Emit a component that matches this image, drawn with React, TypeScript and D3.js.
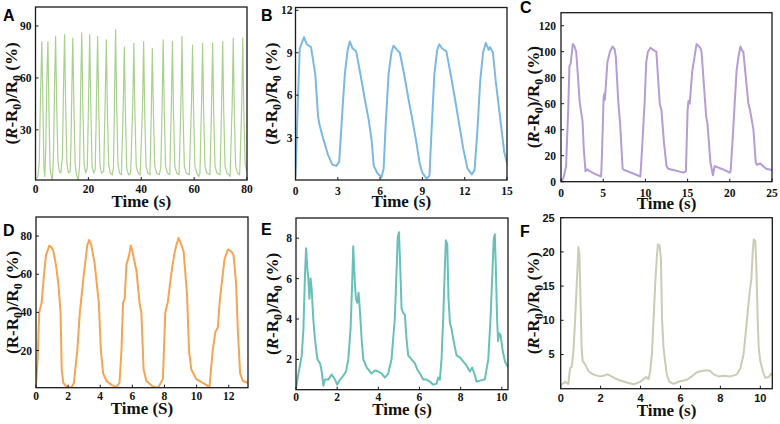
import React from "react";
import * as d3 from "d3";

const SERIF = "'Liberation Serif', 'Times New Roman', serif";
const SANS = "'Liberation Sans', Arial, sans-serif";

type Pt = [number, number];

// Panel A: time (s), (R-R0)/R0 (%)
const dataA: Pt[] = [
  [0, 2], [0.8, 2.5], [1.4, 10], [1.9, 50], [2.4, 81], [2.8, 45], [3.2, 8], [3.5, 3], [3.9, 20], [4.3, 60], [4.7, 81],
  [5.1, 40], [5.5, 8], [6.0, 3], [6.4, 1], [6.8, 15], [7.2, 55], [7.6, 84], [8.0, 45], [8.5, 12], [9.0, 6], [9.6, 5],
  [10.2, 15], [10.6, 55], [11.0, 85], [11.4, 45], [11.9, 10], [12.5, 5], [13.1, 6], [13.4, 20], [13.8, 58], [14.1, 83],
  [14.5, 45], [15.0, 10], [15.5, 4], [16.2, 1], [16.7, 10], [17.1, 55], [17.5, 86], [17.9, 45], [18.4, 10], [19.0, 5],
  [19.6, 8], [20.1, 50], [20.5, 85], [20.9, 45], [21.4, 9], [22.0, 5], [22.6, 7], [23.1, 50], [23.5, 84], [23.9, 45],
  [24.4, 9], [25.0, 5], [25.8, 6], [26.4, 50], [26.8, 82], [27.2, 40], [27.7, 10], [28.3, 5], [29.0, 4], [29.5, 8],
  [29.9, 50], [30.3, 88], [30.7, 45], [31.2, 10], [31.8, 5], [32.5, 4], [33.2, 45], [33.6, 78], [34.0, 40], [34.5, 8],
  [35.2, 4], [36.0, 5], [36.8, 45], [37.2, 80], [37.6, 40], [38.1, 9], [38.8, 5], [39.6, 4], [40.5, 45], [40.9, 81],
  [41.3, 40], [41.8, 9], [42.5, 5], [43.3, 4], [43.8, 40], [44.2, 77], [44.6, 40], [45.1, 9], [45.8, 5], [46.8, 4],
  [47.4, 8], [47.9, 45], [48.3, 82], [48.7, 40], [49.2, 9], [49.9, 5], [50.8, 4], [51.4, 45], [51.8, 81], [52.2, 40],
  [52.7, 9], [53.4, 5], [54.3, 4], [55.0, 45], [55.4, 84], [55.8, 40], [56.3, 9], [57.0, 5], [58.2, 4], [59.0, 45],
  [59.4, 79], [59.8, 40], [60.3, 9], [61.0, 5], [61.8, 3], [62.2, 5], [62.8, 45], [63.2, 80], [63.6, 40], [64.1, 9],
  [64.8, 5], [66.0, 4], [66.6, 45], [67.0, 80], [67.4, 40], [67.9, 9], [68.6, 5], [69.8, 4], [70.4, 45], [70.8, 81],
  [71.2, 40], [71.7, 9], [72.4, 5], [73.2, 4], [73.6, 3], [74.4, 45], [74.8, 83], [75.2, 40], [75.7, 9], [76.4, 5],
  [77.2, 4], [77.4, 12], [78.0, 45], [78.4, 83], [78.8, 40], [79.3, 10], [80, 6],
];

const dataB: Pt[] = [
  [0, 0.2], [0.15, 5], [0.3, 9.3], [0.6, 10.1], [0.8, 9.6], [1.1, 9.4], [1.4, 7.5], [1.6, 4.5], [1.7, 3.9], [2.0, 2.8],
  [2.3, 1.8], [2.6, 1.1], [2.9, 1.0], [3.1, 1.3], [3.3, 4.5], [3.5, 7.5], [3.7, 9.2], [3.85, 9.8], [4.05, 9.3],
  [4.3, 9.1], [4.6, 7.5], [4.9, 5.8], [5.2, 4.2], [5.4, 2.8], [5.55, 1.0], [5.8, 0.5], [6.1, 0.2], [6.25, 0.8],
  [6.4, 4.0], [6.6, 7.5], [6.8, 9.0], [6.95, 9.5], [7.2, 9.2], [7.4, 9.0], [7.7, 7.5], [8.0, 5.8], [8.3, 4.2],
  [8.6, 2.5], [8.8, 1.2], [9.0, 0.5], [9.3, 0.1], [9.5, 0.3], [9.65, 3.5], [9.85, 7.5], [10.05, 9.2], [10.2, 9.6],
  [10.4, 9.3], [10.7, 9.1], [11.0, 7.5], [11.3, 5.8], [11.6, 4.0], [11.9, 2.2], [12.2, 0.8], [12.5, 0.4], [12.7, 0.7],
  [12.9, 3.5], [13.1, 7.0], [13.3, 9.0], [13.5, 9.7], [13.7, 9.2], [13.8, 9.4], [14.0, 9.0], [14.2, 7.0], [14.5, 4.5],
  [14.8, 2.0], [15, 1.2],
];

const dataC: Pt[] = [
  [0, 0], [0.3, 3], [0.6, 12], [0.85, 55], [1.0, 89], [1.15, 91], [1.4, 106], [1.6, 104], [1.8, 100], [2.0, 82],
  [2.2, 62], [2.35, 55], [2.55, 47], [2.7, 25], [2.9, 8], [3.1, 9.5], [3.3, 8.5], [4.0, 6], [4.75, 4], [4.85, 20],
  [5.05, 65], [5.15, 68], [5.2, 63], [5.5, 92], [5.8, 100], [6.1, 104], [6.35, 102], [6.5, 96], [6.8, 60], [7.0, 45],
  [7.3, 10], [7.5, 9], [8.5, 6.5], [9.4, 4], [9.6, 25], [9.9, 60], [10.1, 92], [10.3, 100], [10.6, 103], [11.0, 101],
  [11.3, 100], [11.7, 60], [11.9, 55], [12.2, 30], [12.5, 12], [12.7, 10], [13.3, 9], [14.5, 7], [14.8, 8], [15.0, 55],
  [15.1, 62], [15.25, 60], [15.55, 85], [15.8, 95], [16.06, 106], [16.5, 103], [16.65, 100], [17.2, 50], [17.35, 45],
  [17.7, 15], [18.0, 5], [18.2, 12], [19.0, 10], [20.0, 7], [20.1, 8], [20.4, 40], [20.8, 85], [21.0, 95],
  [21.25, 104], [21.45, 101], [21.6, 100], [22.2, 60], [22.4, 55], [22.8, 40], [23.07, 15], [23.2, 13], [23.6, 14],
  [24.3, 10], [25, 9],
];

const dataD: Pt[] = [
  [0, 2], [0.1, 15], [0.2, 40], [0.35, 45], [0.5, 60], [0.62, 70], [0.83, 75], [0.97, 74], [1.08, 72], [1.24, 65],
  [1.39, 55], [1.53, 40], [1.6, 10], [1.7, 3], [1.9, 1], [2.2, 0.5], [2.36, 3], [2.57, 20], [2.73, 40], [2.98, 60],
  [3.19, 75], [3.31, 78], [3.45, 75], [3.66, 65], [3.91, 45], [4.04, 20], [4.18, 8], [4.39, 4], [4.7, 2], [5.0, 0.8],
  [5.2, 3], [5.32, 20], [5.42, 45], [5.52, 47], [5.63, 65], [5.8, 70], [5.9, 75], [6.0, 72], [6.25, 62], [6.46, 44],
  [6.56, 40], [6.7, 10], [6.87, 4], [7.29, 1], [7.6, 0.5], [7.9, 5], [8.05, 40], [8.2, 45], [8.42, 60], [8.6, 70],
  [8.73, 75], [8.88, 79], [8.98, 77], [9.19, 72], [9.4, 50], [9.53, 20], [9.67, 10], [9.98, 5], [10.6, 2], [10.8, 0.5],
  [11.0, 20], [11.18, 30], [11.32, 32], [11.43, 45], [11.63, 60], [11.74, 68], [11.95, 73], [12.15, 72], [12.3, 70],
  [12.46, 55], [12.57, 30], [12.71, 8], [12.88, 4], [13.2, 3],
];

const dataE: Pt[] = [
  [0, 0.55], [0.1, 1.2], [0.28, 2.2], [0.36, 3.5], [0.44, 6.3], [0.49, 7.5], [0.55, 6.5], [0.6, 6.0], [0.65, 5.0],
  [0.71, 6.0], [0.76, 5.5], [0.84, 4.0], [0.92, 3.0], [1.04, 2.0], [1.17, 1.8], [1.25, 1.4], [1.33, 0.7], [1.41, 1.0],
  [1.57, 1.0], [1.73, 1.25], [1.84, 1.1], [1.94, 0.9], [2.0, 0.75], [2.14, 1.0], [2.3, 1.2], [2.43, 1.4], [2.54, 2.0],
  [2.65, 3.5], [2.72, 5.5], [2.78, 7.6], [2.85, 6.0], [2.91, 5.0], [2.98, 4.8], [3.04, 5.3], [3.1, 4.5], [3.19, 3.0],
  [3.27, 2.0], [3.43, 1.6], [3.67, 1.3], [3.83, 1.45], [4.0, 1.4], [4.16, 1.3], [4.32, 1.1], [4.48, 1.3], [4.64, 2.0],
  [4.8, 4.0], [4.89, 6.5], [4.94, 8.0], [5.0, 8.3], [5.05, 7.0], [5.13, 4.5], [5.21, 4.3], [5.29, 4.2], [5.37, 3.0],
  [5.45, 2.2], [5.61, 2.0], [5.78, 1.8], [5.89, 1.5], [6.02, 1.3], [6.18, 1.0], [6.34, 1.0], [6.5, 0.9], [6.67, 0.75],
  [6.83, 0.8], [6.91, 1.1], [6.99, 1.0], [7.07, 2.0], [7.15, 4.0], [7.23, 6.5], [7.28, 7.9], [7.35, 7.7], [7.41, 5.0],
  [7.48, 3.8], [7.56, 3.5], [7.64, 3.0], [7.8, 2.2], [7.96, 2.1], [8.12, 1.9], [8.28, 1.7], [8.45, 1.4], [8.56, 1.6],
  [8.69, 1.2], [8.77, 0.9], [8.93, 0.95], [9.17, 1.0], [9.34, 2.0], [9.45, 4.0], [9.55, 6.5], [9.61, 8.0], [9.66, 8.2],
  [9.71, 6.5], [9.77, 4.0], [9.82, 2.9], [9.87, 3.3], [9.94, 3.2], [10.03, 2.5], [10.15, 1.9], [10.31, 1.6],
];

const dataF: Pt[] = [
  [0, 0.55], [0.13, 0.8], [0.22, 1.0], [0.3, 0.8], [0.38, 0.7], [0.47, 3.0], [0.55, 3.2], [0.64, 5.5], [0.72, 10.0],
  [0.8, 15.0], [0.89, 20.7], [0.94, 19.5], [1.0, 12.0], [1.05, 6.0], [1.1, 4.0], [1.17, 3.8], [1.27, 3.3], [1.39, 2.6],
  [1.56, 2.2], [1.72, 2.0], [1.97, 1.8], [2.14, 1.9], [2.34, 2.1], [2.47, 1.9], [2.73, 1.5], [2.98, 1.2], [3.31, 0.9],
  [3.65, 0.65], [3.81, 0.8], [3.98, 1.0], [4.15, 1.4], [4.28, 1.7], [4.4, 1.4], [4.48, 2.5], [4.57, 5.0], [4.65, 10.0],
  [4.73, 15.0], [4.82, 19.5], [4.87, 21.1], [4.95, 21.0], [5.02, 19.0], [5.08, 10.0], [5.15, 6.0], [5.23, 4.0],
  [5.32, 2.0], [5.45, 1.0], [5.65, 0.7], [5.82, 0.9], [5.99, 1.1], [6.32, 1.3], [6.57, 1.8], [6.82, 2.4], [7.07, 2.6],
  [7.32, 2.7], [7.49, 2.6], [7.66, 2.1], [7.91, 1.8], [8.16, 1.9], [8.49, 1.8], [8.83, 2.1], [9.0, 3.0], [9.16, 5.0],
  [9.33, 10.0], [9.46, 14.0], [9.55, 16.0], [9.62, 20.0], [9.67, 21.8], [9.75, 21.6], [9.8, 18.0], [9.87, 10.0],
  [9.92, 6.0], [10.0, 4.0], [10.13, 2.5], [10.25, 1.6], [10.42, 1.7], [10.54, 2.2], [10.6, 2.0],
];

const xTicksA = [0, 20, 40, 60, 80];
const yTicksA = [30, 60, 90];
const xTicksB = [0, 3, 6, 9, 12, 15];
const yTicksB = [3, 6, 9, 12];
const xTicksC = [0, 5, 10, 15, 20, 25];
const yTicksC = [0, 20, 40, 60, 80, 100, 120];
const xTicksD = [0, 2, 4, 6, 8, 10, 12];
const yTicksD = [20, 40, 60, 80];
const xTicksE = [0, 2, 4, 6, 8, 10];
const yTicksE = [2, 4, 6, 8];
const xTicksF = [0, 2, 4, 6, 8, 10];
const yTicksF = [5, 10, 15, 20, 25];

interface PanelCfg {
  id: string;
  data: Pt[];
  color: string;
  lw: number;
  left: number; right: number; top: number; bottom: number;
  xDom: [number, number]; yDom: [number, number];
  xTicks: number[]; yTicks: number[];
  italic: boolean;
  xLabel: string;
  tickFont: string;
  xTickY: number; xTitleY: number; yLabelX: number; yTickGap: number;
  letterX: number; letterY: number;
}

const panels: PanelCfg[] = [
  { id: "A", data: dataA, color: "#a9d08e", lw: 1.2, left: 35.5, right: 247, top: 7, bottom: 180, xDom: [0, 80], yDom: [1, 101],
    xTicks: xTicksA, yTicks: yTicksA, italic: true, xLabel: "Time (s)", tickFont: SERIF,
    xTickY: 193.3, xTitleY: 207, yLabelX: 12, yTickGap: 4, letterX: 3, letterY: 21 },
  { id: "B", data: dataB, color: "#7cb8e4", lw: 2, left: 295.5, right: 507, top: 7.5, bottom: 180, xDom: [0, 15], yDom: [0, 12.2],
    xTicks: xTicksB, yTicks: yTicksB, italic: true, xLabel: "Time (s)", tickFont: SERIF,
    xTickY: 194.5, xTitleY: 207, yLabelX: 272, yTickGap: 3, letterX: 261, letterY: 21 },
  { id: "C", data: dataC, color: "#b59dd4", lw: 2, left: 561, right: 772, top: 12.7, bottom: 181.7, xDom: [0, 25], yDom: [0, 130],
    xTicks: xTicksC, yTicks: yTicksC, italic: true, xLabel: "Time (s)", tickFont: SERIF,
    xTickY: 197, xTitleY: 209, yLabelX: 534, yTickGap: 5, letterX: 520, letterY: 13 },
  { id: "D", data: dataD, color: "#f6a453", lw: 2, left: 36, right: 248, top: 217, bottom: 387.7, xDom: [0, 13.2], yDom: [0.5, 90],
    xTicks: xTicksD, yTicks: yTicksD, italic: false, xLabel: "Time (S)", tickFont: SERIF,
    xTickY: 400, xTitleY: 414, yLabelX: 13, yTickGap: 4, letterX: 3, letterY: 236 },
  { id: "E", data: dataE, color: "#68c0b7", lw: 2, left: 296, right: 508, top: 218, bottom: 389.7, xDom: [0, 10.3], yDom: [0.5, 9],
    xTicks: xTicksE, yTicks: yTicksE, italic: true, xLabel: "Time (s)", tickFont: SERIF,
    xTickY: 401, xTitleY: 415, yLabelX: 273, yTickGap: 4, letterX: 261, letterY: 235 },
  { id: "F", data: dataF, color: "#c8cdb4", lw: 2, left: 560.7, right: 772.3, top: 217.7, bottom: 388.7, xDom: [0, 10.6], yDom: [0, 25],
    xTicks: xTicksF, yTicks: yTicksF, italic: true, xLabel: "Time (s)", tickFont: SANS,
    xTickY: 402, xTitleY: 416, yLabelX: 534, yTickGap: 6, letterX: 520, letterY: 237 },
];

function Panel({ p }: { p: PanelCfg }) {
  const x = d3.scaleLinear().domain(p.xDom).range([p.left, p.right]);
  const y = d3.scaleLinear().domain(p.yDom).range([p.bottom, p.top]);
  const line = d3.line<Pt>().x((d) => x(d[0])).y((d) => y(d[1]));
  const cx = (p.left + p.right) / 2;
  const cy = (p.top + p.bottom) / 2;
  const clipId = `clip-${p.id}`;
  const tickSize = p.tickFont === SANS ? 11 : 11.5;
  return (
    <g>
      <clipPath id={clipId}>
        <rect x={p.left} y={p.top} width={p.right - p.left} height={p.bottom - p.top} />
      </clipPath>
      <path d={line(p.data) || ""} fill="none" stroke={p.color} strokeWidth={p.lw}
        strokeLinejoin="round" strokeLinecap="round" clipPath={`url(#${clipId})`} />
      <rect x={p.left} y={p.top} width={p.right - p.left} height={p.bottom - p.top}
        fill="none" stroke="#1a1a1a" strokeWidth={1.3} />
      {p.xTicks.map((t) => (
        <g key={`x${t}`}>
          <line x1={x(t)} x2={x(t)} y1={p.bottom} y2={p.bottom - 3} stroke="#1a1a1a" strokeWidth={1} />
          <text x={x(t)} y={p.xTickY} textAnchor="middle" fontFamily={p.tickFont} fontWeight="bold"
            fontSize={tickSize} fill="#111">{t}</text>
        </g>
      ))}
      {p.yTicks.map((t) => (
        <g key={`y${t}`}>
          <line x1={p.left} x2={p.left + 3} y1={y(t)} y2={y(t)} stroke="#1a1a1a" strokeWidth={1} />
          <text x={p.left - p.yTickGap} y={y(t)} dy="0.35em" textAnchor="end" fontFamily={p.tickFont}
            fontWeight="bold" fontSize={tickSize} fill="#111">{t}</text>
        </g>
      ))}
      <text x={cx} y={p.xTitleY} textAnchor="middle" fontFamily={SERIF} fontWeight="bold" fontSize={17} fill="#111">
        {p.xLabel}
      </text>
      <text transform={`translate(${p.yLabelX + 5},${cy}) rotate(-90)`} textAnchor="middle" fontFamily={SERIF}
        fontWeight="bold" fontSize={17} fill="#111">
        <tspan>(</tspan>
        <tspan fontStyle={p.italic ? "italic" : "normal"}>R</tspan>
        <tspan>-R</tspan>
        <tspan dy={3.5} fontSize={12}>0</tspan>
        <tspan dy={-3.5}>)/R</tspan>
        <tspan dy={3.5} fontSize={12}>0</tspan>
        <tspan dy={-3.5}> (%)</tspan>
      </text>
      <text x={p.letterX} y={p.letterY} fontFamily={SANS} fontWeight="bold" fontSize={16} fill="#000">{p.id}</text>
    </g>
  );
}

export default function App() {
  return (
    <svg width={780} height={424} viewBox="0 0 780 424"
      style={{ position: "absolute", left: 0, top: 0, background: "#fff" }}>
      <rect x={0} y={0} width={780} height={424} fill="#fff" />
      {panels.map((p) => (
        <Panel key={p.id} p={p} />
      ))}
    </svg>
  );
}
